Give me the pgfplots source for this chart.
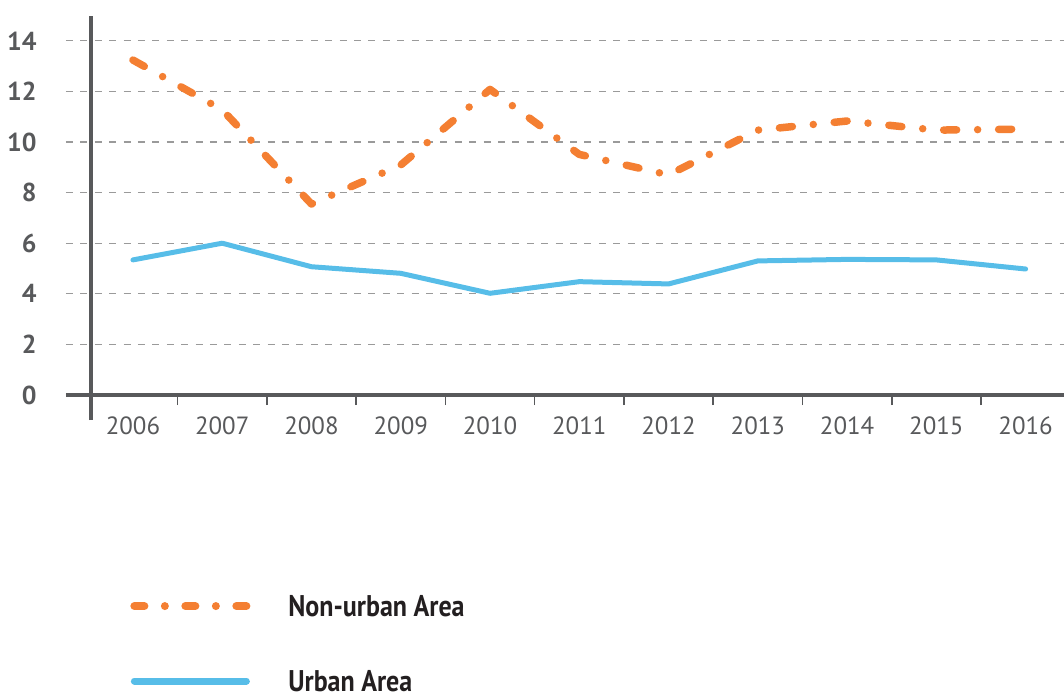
\documentclass[border=0pt]{standalone}
\usepackage{pgfplots}
\pgfplotsset{compat=1.18}
\usepackage{fontspec}
\setmainfont{PT Sans}
\newfontfamily\legfont[FakeStretch=0.87]{PT Sans}
\definecolor{orangeL}{HTML}{F47F32}
\definecolor{blueL}{HTML}{57BDE8}
\definecolor{axgray}{HTML}{58595B}
\definecolor{gridgray}{HTML}{9A9A9A}
\definecolor{legtext}{HTML}{231F20}
\begin{document}
\begin{tikzpicture}
\begin{axis}[
  name=ax,
  width=499bp, height=189.75bp, scale only axis,
  xmin=-0.75, xmax=10.43, ymin=0, ymax=15,
  clip=false,
  /pgf/number format/assume math mode=true,
  axis line style={draw=none},
  xtick={0,1,2,3,4,5,6,7,8,9,10},
  xticklabels={2006,2007,2008,2009,2010,2011,2012,2013,2014,2015,2016},
  minor xtick={0.5,1.5,2.5,3.5,4.5,5.5,6.5,7.5,8.5,9.5},
  ytick={0,2,4,6,8,10,12,14},
  major tick length=0pt,
  minor tick length=5bp,
  tick align=outside,
  xtick pos=bottom, ytick pos=left,
  tick style={axgray, line width=0.8bp},
  ymajorgrids,
  major grid style={gridgray, line width=0.6bp, dash pattern=on 3.5bp off 3.7bp},
  xticklabel style={font=\fontsize{12.5}{14}\selectfont, text=axgray, anchor=north, inner sep=0pt, yshift=-10.5bp},
  yticklabel style={font=\fontsize{13}{14}\selectfont\bfseries, text=axgray, anchor=east, inner sep=0pt, xshift=-14.5bp},
  legend style={at={(axis description cs:0.0641,-0.655)}, anchor=west, draw=none, fill=none,
    inner sep=0pt, row sep=27bp, column sep=19bp,
    font=\legfont\bfseries\fontsize{15}{18}\selectfont, text=legtext,
    nodes={inner sep=0pt, text height=10.5bp, text depth=0bp}},
  legend cell align=left,
  legend image code/.code={\draw[#1] (2bp,0bp) -- (58bp,0bp);},
]
\draw[axgray, line width=2bp] (rel axis cs:0,0) -- (rel axis cs:1,0);
\draw[axgray, line width=1.7bp] (axis cs:-0.47,-0.99) -- (axis cs:-0.47,15);

\addlegendimage{orangeL, line width=4bp, line cap=round, dash pattern=on 5bp off 10.25bp on 0bp off 10.25bp}
\addlegendentry{Non-urban Area}
\addlegendimage{blueL, line width=3.5bp, line cap=round}
\addlegendentry{Urban Area}

\addplot[forget plot, orangeL, line width=3.75bp, line cap=round, line join=round,
  dash pattern=on 6.5bp off 10.5bp on 0bp off 10.5bp] coordinates {
  (0,13.24) (1,11.27) (2,7.55) (3,9.09) (4,12.08) (5,9.51) (6,8.70) (7,10.47) (8,10.83) (9,10.47) (10,10.51)};
\addplot[forget plot, blueL, line width=2.5bp, line cap=round, line join=round] coordinates {
  (0,5.34) (1,6.00) (2,5.07) (3,4.81) (4,4.02) (5,4.48) (6,4.39) (7,5.30) (8,5.36) (9,5.34) (10,4.98)};
\end{axis}
\pgfresetboundingbox
\useasboundingbox ([xshift=-33bp,yshift=-152.5bp]ax.south west) rectangle ([yshift=7.75bp]ax.north east);
\end{tikzpicture}
\end{document}
